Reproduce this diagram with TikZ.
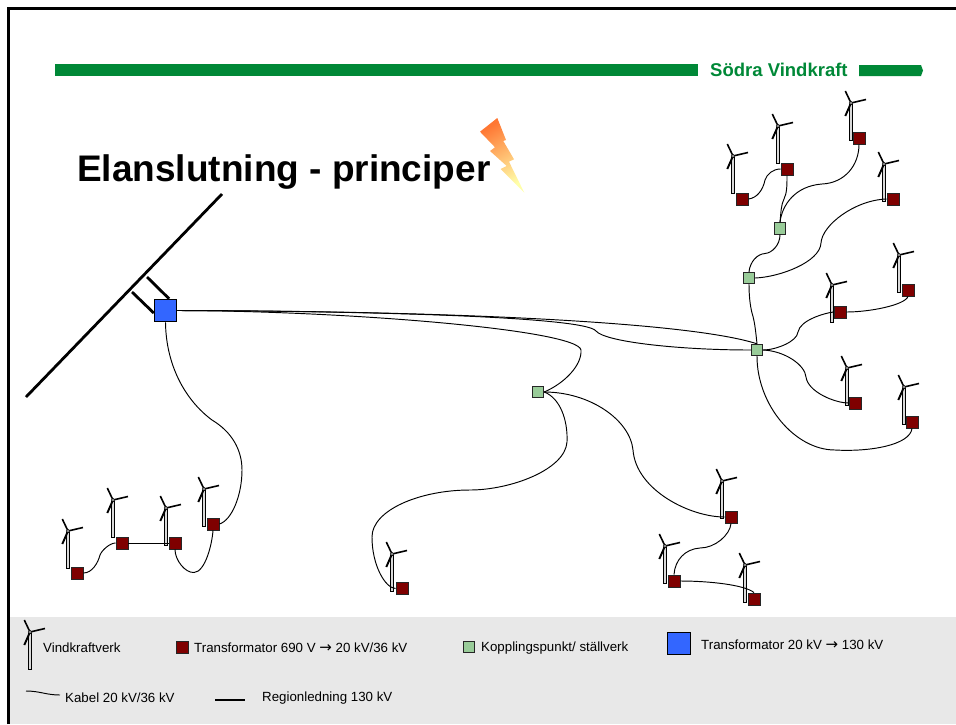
\documentclass[tikz,border=0pt]{standalone}
\usepackage{fontspec}
\setmainfont{Liberation Sans}
\newfontfamily\arrowfont{DejaVu Sans}
\definecolor{barGreen}{HTML}{008837}
\definecolor{trafoRed}{HTML}{7F0000}
\definecolor{pointGreen}{HTML}{99CC99}
\definecolor{trafoBlue}{HTML}{3366FF}
\definecolor{legendGray}{HTML}{E8E8E8}
\definecolor{boltTop}{HTML}{FF7733}
\definecolor{boltEnd}{HTML}{FFFFAA}
\tikzset{
  trafo/.style={draw=black!85,line width=.9pt,fill=trafoRed,inner sep=0,minimum size=12pt},
  point/.style={draw=black!85,line width=.9pt,fill=pointGreen,inner sep=0,minimum size=11.5pt},
  station/.style={draw=black,line width=1pt,fill=trafoBlue,inner sep=0,minimum size=22.5pt},
  cable/.style={line width=.95pt},
  regional/.style={line width=2.8pt},
  legendtext/.style={anchor=west,inner sep=0,font=\fontsize{13.3}{15}\selectfont},
  turbine/.pic={
    \draw[line width=.7pt,fill=black!15] (-1.4,1) rectangle (1.4,37);
    \draw[line width=1.6pt] (0,0) -- (-5.7,-12);
    \draw[line width=1.6pt] (0,0) -- (15,-3.5);
    \draw[line width=1.9pt] (0,0) -- (-5.7,13);
    \filldraw[fill=white,line width=.6pt] (0,0) circle (1.6);
  }
}
\newcommand{\rarrow}{{\arrowfont\fontsize{15}{15}\selectfont →}}
\begin{document}
\begin{tikzpicture}[x=1pt,y=-1pt]
      \useasboundingbox (0,0) rectangle (956,724);
      \fill[legendGray] (10,617) rectangle (956,724);
      \draw[line width=3pt] (8.5,724) -- (8.5,8.5) -- (956,8.5);
      \fill[barGreen] (55,64) rectangle (698,76);
      \fill[barGreen] (859,65) -- (921,65) -- (923,70.5) -- (921,76) -- (859,76) -- cycle;
      \node[anchor=west,inner sep=0,text=barGreen,font=\fontsize{18.5}{20}\selectfont\bfseries] (brand) at (710,69.5) {Södra Vindkraft};
      \node[anchor=base west,inner sep=0,font=\fontsize{37}{40}\selectfont\bfseries] (title) at (77,181) {Elanslutning - principer};
      \shade[shading=axis,top color=boltTop,bottom color=boltEnd,shading angle=30]
        (497.3,118) -- (506,140) -- (503.3,141) -- (514,159.3) -- (509,161.7) -- (524.3,192.7) -- (500.7,169) -- (506.7,166) -- (490,151) -- (495,147.3) -- (480,131.7) -- cycle;
      % turbines
      \pic at (733,156) {turbine};
      \pic at (778,126) {turbine};
      \pic at (851,103) {turbine};
      \pic at (884,164) {turbine};
      \pic at (832,285) {turbine};
      \pic at (899,255) {turbine};
      \pic at (847,368) {turbine};
      \pic at (904,387) {turbine};
      \pic at (722,481) {turbine};
      \pic at (665,546) {turbine};
      \pic at (745,565) {turbine};
      \pic at (68,531) {turbine};
      \pic at (113,500) {turbine};
      \pic at (166,508) {turbine};
      \pic at (204,489) {turbine};
      \pic at (392,554) {turbine};
      % transformers
      \node[trafo] (s1) at (742,199) {};
      \node[trafo] (s2) at (787,169) {};
      \node[trafo] (s3) at (859,138) {};
      \node[trafo] (s4) at (893,199) {};
      \node[trafo] (s5) at (840,312) {};
      \node[trafo] (s6) at (908,290) {};
      \node[trafo] (s7) at (855,403) {};
      \node[trafo] (s8) at (912,422) {};
      \node[trafo] (s9) at (731,517) {};
      \node[trafo] (s10) at (674,581) {};
      \node[trafo] (s11) at (754,599) {};
      \node[trafo] (s12) at (77,573) {};
      \node[trafo] (s13) at (122,543) {};
      \node[trafo] (s14) at (175,543) {};
      \node[trafo] (s15) at (213,524) {};
      \node[trafo] (s16) at (402,588.5) {};
      % coupling points
      \node[point] (g1) at (780,228.5) {};
      \node[point] (g2) at (749,278) {};
      \node[point] (g3) at (757,350) {};
      \node[point] (g4) at (538,392) {};
      \node[station] (blue) at (165.5,310.5) {};
      % regional line
      \coordinate (lineA) at (26,397);
      \coordinate (lineB) at (222,194);
      \coordinate (stubA) at (147,277);
      \coordinate (stubB) at (132,292);
      \draw[regional] (lineA) -- (lineB);
      \draw[regional] (stubA) -- (blue.73);
      \draw[regional] (stubB) -- (blue.192);
      % cables
      \draw[cable] (s1.east) .. controls (757,198) and (763,190) .. (765,180) .. controls (767,174) and (773,169) .. (s2.west);
      \draw[cable] (s2.south) .. controls (787,185) and (787,193) .. (784,199) .. controls (781,205) and (781,212) .. (g1.north);
      \draw[cable] (s3.south) .. controls (859,165) and (845,183) .. (822,184) .. controls (795,186) and (782,205) .. (g1.north);
      \draw[cable] (g1.south) .. controls (780,245) and (772,253) .. (765,253.5) .. controls (757,254) and (750,262) .. (g2.north);
      \draw[cable] (g2.east) .. controls (780,277) and (820,262) .. (821,243) .. controls (822,225) and (855,200) .. (s4.west);
      \draw[cable] (g2.south) .. controls (749,295) and (750,305) .. (752,313) .. controls (755,322) and (756,335) .. (g3.north);
      \draw[cable] (g3.east) .. controls (775,350) and (797,342) .. (798,332) .. controls (800,320) and (825,313) .. (s5.west);
      \draw[cable] (s5.east) .. controls (870,312) and (905,305) .. (s6.south);
      \draw[cable] (g3.east) .. controls (785,351) and (805,365) .. (806,377) .. controls (808,392) and (835,403) .. (s7.west);
      \draw[cable] (g3.south) .. controls (757,405) and (795,450) .. (835,450) .. controls (870,452) and (910,445) .. (s8.south);
      \draw[cable] (blue.east) .. controls (450,311) and (690,322) .. (g3.north);
      \draw[cable] (blue.east) .. controls (350,311) and (585,316) .. (596,331) .. controls (605,342) and (680,350) .. (g3.west);
      \draw[cable] (blue.east) .. controls (350,311) and (578,330) .. (581,350) .. controls (582,365) and (565,383) .. (g4.east);
      \draw[cable] (g4.east) .. controls (560,398) and (568,420) .. (567,442) .. controls (565,470) and (510,490) .. (470,490) .. controls (420,490) and (372,510) .. (372,537) .. controls (372,565) and (385,588) .. (s16.west);
      \draw[cable] (g4.east) .. controls (590,392) and (630,420) .. (633,450) .. controls (636,490) and (690,517) .. (s9.west);
      \draw[cable] (blue.south) .. controls (166,365) and (185,400) .. (212,420) .. controls (232,432) and (242,450) .. (242,470) .. controls (242,495) and (232,520) .. (s15.east);
      \draw[cable] (s15.south) .. controls (212,545) and (205,572) .. (194,572.5) .. controls (185,573) and (175,560) .. (s14.south);
      \draw[cable] (s13.east) -- (s14.west);
      \draw[cable] (s12.east) .. controls (92,573) and (98,563) .. (100,555) .. controls (102,550) and (110,543) .. (s13.west);
      \draw[cable] (s9.south) .. controls (730,535) and (715,548) .. (700,548) .. controls (685,549) and (675,560) .. (s10.north);
      \draw[cable] (s10.east) .. controls (710,581) and (745,585) .. (s11.north);
      % legend
      \pic at (30,632) {turbine};
      \node[legendtext] (legA) at (43,648) {Vindkraftverk};
      \node[trafo] (legB) at (182,647) {};
      \node[legendtext] (legC) at (194,648) {Transformator 690 V \rarrow{} 20 kV/36 kV};
      \node[point] (legD) at (469,647) {};
      \node[legendtext] (legE) at (481,648) {Kopplingspunkt/ ställverk};
      \node[station] (legF) at (679,643.5) {};
      \node[legendtext] (legG) at (701,645) {Transformator 20 kV \rarrow{} 130 kV};
      \coordinate (legH) at (26,691);
      \coordinate (legI) at (60,695);
      \draw[cable] (legH) .. controls (40,691) and (46,695) .. (legI);
      \node[legendtext] (legJ) at (65,698) {Kabel 20 kV/36 kV};
      \coordinate (legK) at (215,700);
      \coordinate (legL) at (245,700);
      \draw[regional] (legK) -- (legL);
      \node[legendtext] (legM) at (262,698) {Regionledning 130 kV};
\end{tikzpicture}
\end{document}
